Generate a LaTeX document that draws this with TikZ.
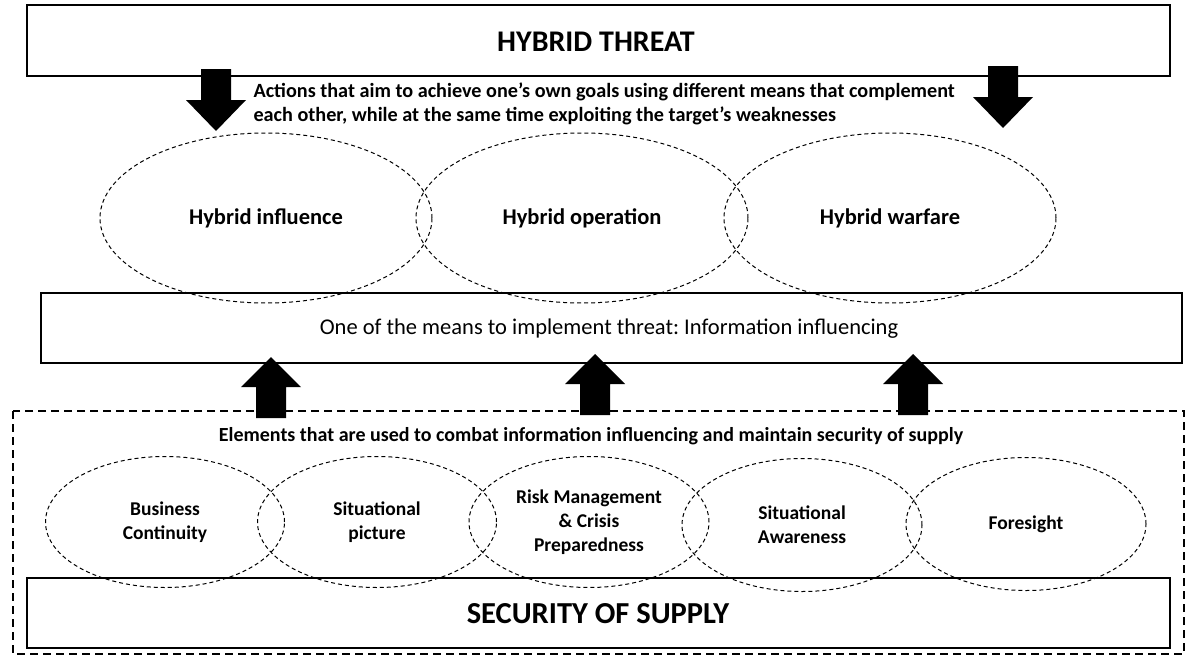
\documentclass[tikz,border=0pt]{standalone}
\usepackage{fontspec}
\setmainfont{Carlito}
\frenchspacing
\usetikzlibrary{shapes.geometric}
\tikzset{
  box/.style={draw=black, line width=1.3pt},
  ell/.style={draw=black, ellipse, line width=1pt, dash pattern=on 4pt off 3pt, inner sep=0pt, align=center},
  outerbox/.style={draw=black, line width=1.1pt, dash pattern=on 8pt off 5pt},
  upblock/.pic={\fill[black] (0,0) -- (30,30) -- (15,30) -- (15,61) -- (-15,61) -- (-15,30) -- (-30,30) -- cycle;},
  downblock/.pic={\fill[black] (0,0) -- (30,-31) -- (15,-31) -- (15,-62) -- (-15,-62) -- (-15,-31) -- (-30,-31) -- cycle;},
  bigtitle/.style={font=\bfseries\fontsize{30}{36}\selectfont},
  elltext/.style={font=\bfseries\fontsize{22.5}{27}\selectfont},
  smallell/.style={font=\bfseries\fontsize{19.5}{24}\selectfont},
}
\begin{document}
\begin{tikzpicture}[x=1pt,y=-1pt]
\useasboundingbox (0,0) rectangle (1186,656);
% outer dashed frame
\draw[outerbox] (13,411) rectangle (1184,654);
% boxes
\draw[box] (27,5) rectangle (1170,76);
\node[bigtitle] (threat) at (596,42) {HYBRID THREAT};
\draw[box] (41,293) rectangle (1182,363);
\node[font=\fontsize{22.5}{27}\selectfont] (means) at (609,329) {One of the means to implement threat: Information influencing};
\draw[box] (27,578) rectangle (1170,648);
\node[font=\bfseries\fontsize{30.5}{36}\selectfont] (supply) at (598,614) {SECURITY OF SUPPLY};
% texts
\node[anchor=west, align=left, font=\bfseries\fontsize{20.2}{24}\selectfont] (actions) at (250,104) {Actions that aim to achieve one’s own goals using different means that complement\\each other, while at the same time exploiting the target’s weaknesses};
\node[font=\bfseries\fontsize{20}{24}\selectfont] (elements) at (591,436) {Elements that are used to combat information influencing and maintain security of supply};
% top ellipses
\node[ell, elltext, minimum width=332pt, minimum height=170pt] (infl) at (266,218) {Hybrid influence};
\node[ell, elltext, minimum width=332pt, minimum height=170pt] (oper) at (582,218) {Hybrid operation};
\node[ell, elltext, minimum width=332pt, minimum height=170pt] (warf) at (890,218) {Hybrid warfare};
% bottom ellipses
\node[ell, smallell, minimum width=239pt, minimum height=131pt] (bc) at (165,522) {Business\\Continuity};
\node[ell, smallell, minimum width=239pt, minimum height=131pt] (sp) at (377,522) {Situational\\picture};
\node[ell, smallell, minimum width=240pt, minimum height=131pt] (rm) at (589,522) {Risk Management\\\& Crisis\\Preparedness};
\node[ell, smallell, minimum width=240pt, minimum height=133pt] (sa) at (802,525) {Situational\\Awareness};
\node[ell, smallell, minimum width=240pt, minimum height=133pt] (fs) at (1026,524) {Foresight};
% block arrows
\pic at (216,131) {downblock};
\pic at (1003,128) {downblock};
\pic at (271,357) {upblock};
\pic at (595,354) {upblock};
\pic at (913,354) {upblock};
\end{tikzpicture}
\end{document}
